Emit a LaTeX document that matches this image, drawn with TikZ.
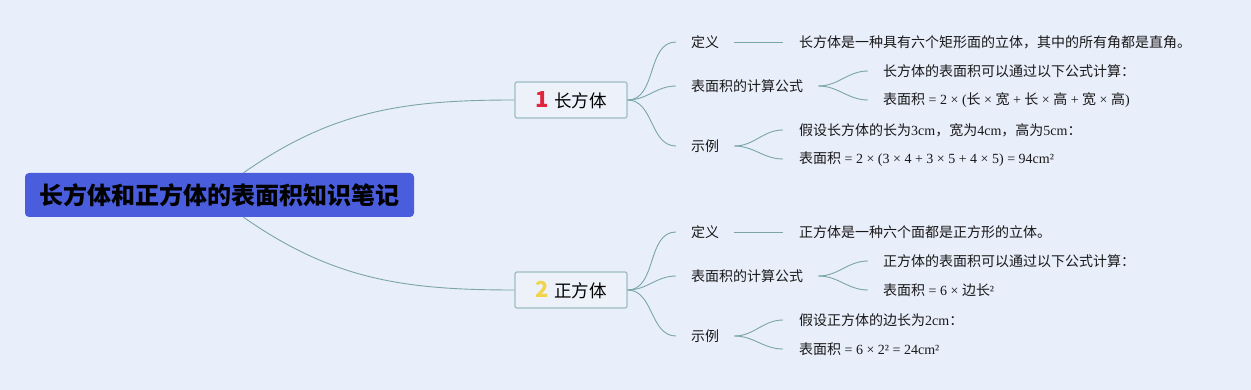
\documentclass[tikz,border=0pt]{standalone}
\usepackage{fontspec}
\setmainfont{Noto Sans CJK SC}
\newfontfamily\latfont{Liberation Serif}
\newcommand\rmtxt[1]{{\latfont #1}}
\definecolor{bgcol}{HTML}{E9EEFB}
\definecolor{rootcol}{HTML}{4A5EDD}
\definecolor{boxcol}{HTML}{EDF2FA}
\definecolor{edgecol}{HTML}{9DBDC2}
\definecolor{linkcol}{HTML}{7AA6A9}
\definecolor{numred}{HTML}{E0253C}
\definecolor{numyel}{HTML}{F2D44A}
\tikzset{
  rootbox/.style={fill=rootcol, rounded corners=4pt, minimum width=389pt,
    minimum height=44pt, inner sep=0pt, font=\fontsize{24}{26}\selectfont\bfseries, text=black},
  topicbox/.style={fill=boxcol, draw=edgecol, line width=1.2pt, rounded corners=2pt,
    minimum width=112pt, minimum height=36pt, inner sep=0pt, font=\fontsize{17.5}{19}\selectfont},
  sub/.style={anchor=west, inner sep=0pt, font=\fontsize{14}{16}\selectfont, text=black!90},
  leaf/.style={anchor=west, inner sep=0pt, font=\fontsize{14}{16}\selectfont, text=black!90},
  link/.style={draw=linkcol, line width=0.9pt},
}
\begin{document}
\begin{tikzpicture}[x=1pt, y=-1pt]
 \fill[bgcol] (0,0) rectangle (1251,390);
 \useasboundingbox (0,0) rectangle (1251,390);
 % root and the two topics
 \node[rootbox] (root) at (219.5,195) {长方体和正方体的表面积知识笔记};
 \node[topicbox] (cuboid) at (571,100) {{\fontsize{22}{22}\selectfont\bfseries\color{numred}1}\hspace{6pt}长方体};
 \node[topicbox] (cube) at (571,290) {{\fontsize{22}{22}\selectfont\bfseries\color{numyel}2}\hspace{6pt}正方体};
 \draw[link] ([xshift=24pt]root.north) to[out=35,in=180] (cuboid.west);
 \draw[link] ([xshift=24pt]root.south) to[out=-35,in=180] (cube.west);
 % cuboid
 \node[sub] (c-def) at (691,42) {定义};
 \node[sub] (c-area) at (691,86) {表面积的计算公式};
 \node[sub] (c-ex) at (691,146) {示例};
 \node[leaf] (c-def-t) at (799,42) {长方体是一种具有六个矩形面的立体，其中的所有角都是直角。};
 \node[leaf] (c-area-a) at (883,71) {长方体的表面积可以通过以下公式计算：};
 \node[leaf] (c-area-b) at (883,100) {表面积\rmtxt{ = 2 × (}长\rmtxt{ × }宽\rmtxt{ + }长\rmtxt{ × }高\rmtxt{ + }宽\rmtxt{ × }高\rmtxt{)}};
 \node[leaf] (c-ex-a) at (799,130) {假设长方体的长为\rmtxt{3cm}，宽为\rmtxt{4cm}，高为\rmtxt{5cm}：};
 \node[leaf] (c-ex-b) at (799,159) {表面积\rmtxt{ = 2 × (3 × 4 + 3 × 5 + 4 × 5) = 94cm²}};
 \foreach \s in {c-def,c-area,c-ex}
   \draw[link] (cuboid.east) to[out=0,in=180] ([xshift=-15pt]\s.west);
 \draw[link] ([xshift=15pt]c-def.east) -- ([xshift=-16pt]c-def-t.west);
 \draw[link] ([xshift=15pt]c-area.east) to[out=0,in=180] ([xshift=-15pt]c-area-a.west);
 \draw[link] ([xshift=15pt]c-area.east) to[out=0,in=180] ([xshift=-15pt]c-area-b.west);
 \draw[link] ([xshift=15pt]c-ex.east) to[out=0,in=180] ([xshift=-16pt]c-ex-a.west);
 \draw[link] ([xshift=15pt]c-ex.east) to[out=0,in=180] ([xshift=-16pt]c-ex-b.west);
 % cube
 \node[sub] (q-def) at (691,232) {定义};
 \node[sub] (q-area) at (691,276) {表面积的计算公式};
 \node[sub] (q-ex) at (691,336) {示例};
 \node[leaf] (q-def-t) at (799,232) {正方体是一种六个面都是正方形的立体。};
 \node[leaf] (q-area-a) at (883,261) {正方体的表面积可以通过以下公式计算：};
 \node[leaf] (q-area-b) at (883,290) {表面积\rmtxt{ = 6 × }边长\rmtxt{²}};
 \node[leaf] (q-ex-a) at (799,320) {假设正方体的边长为\rmtxt{2cm}：};
 \node[leaf] (q-ex-b) at (799,349) {表面积\rmtxt{ = 6 × 2² = 24cm²}};
 \foreach \s in {q-def,q-area,q-ex}
   \draw[link] (cube.east) to[out=0,in=180] ([xshift=-15pt]\s.west);
 \draw[link] ([xshift=15pt]q-def.east) -- ([xshift=-16pt]q-def-t.west);
 \draw[link] ([xshift=15pt]q-area.east) to[out=0,in=180] ([xshift=-15pt]q-area-a.west);
 \draw[link] ([xshift=15pt]q-area.east) to[out=0,in=180] ([xshift=-15pt]q-area-b.west);
 \draw[link] ([xshift=15pt]q-ex.east) to[out=0,in=180] ([xshift=-16pt]q-ex-a.west);
 \draw[link] ([xshift=15pt]q-ex.east) to[out=0,in=180] ([xshift=-16pt]q-ex-b.west);
\end{tikzpicture}
\end{document}
